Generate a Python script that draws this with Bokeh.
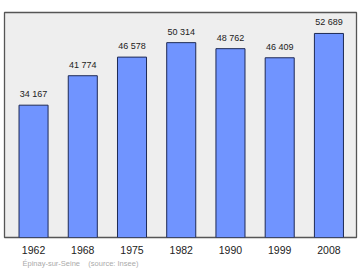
from bokeh.plotting import figure
from bokeh.models import Range1d, FixedTicker, Title, ColumnDataSource
from bokeh.core.properties import value
from bokeh.embed import file_html
from bokeh.resources import INLINE

years = ["1962", "1968", "1975", "1982", "1990", "1999", "2008"]
population = [34167, 41774, 46578, 50314, 48762, 46409, 52689]
value_labels = ["34 167", "41 774", "46 578", "50 314", "48 762", "46 409", "52 689"]
footnote = "Épinay-sur-Seine\u00a0\u00a0\u00a0\u00a0(source: Insee)"

xs = list(range(len(years)))
src = ColumnDataSource(dict(x=xs, top=population, lab=value_labels))

p = figure(width=360, height=270, output_backend="svg", toolbar_location=None,
           x_range=Range1d(-0.59, 6.56), y_range=Range1d(0, 58100),
           min_border_left=4, min_border_right=4, min_border_top=12, min_border_bottom=33)
p.background_fill_color = "#eeeeee"
p.border_fill_color = "white"
p.outline_line_color = "#555555"
p.outline_line_width = 1.3
p.xgrid.visible = False
p.ygrid.visible = False
p.yaxis.visible = False

p.vbar(x="x", top="top", width=0.59, bottom=0, source=src,
       fill_color="#7094ff", line_color="#1e2a55", line_width=1)
p.text(x="x", y="top", text="lab", source=src, y_offset=-6,
       text_align="center", text_baseline="bottom",
       text_font=value("Liberation Sans"), text_font_size="9px", text_color="#222222")

ax = p.xaxis[0]
ax.ticker = FixedTicker(ticks=xs)
ax.major_label_overrides = {i: y for i, y in zip(xs, years)}
ax.axis_line_color = None
ax.major_tick_line_color = None
ax.minor_tick_line_color = None
ax.major_tick_out = 0
ax.minor_tick_out = 0
ax.major_label_standoff = 8
ax.major_label_text_font = "Liberation Sans"
ax.major_label_text_font_size = "10.5px"
ax.major_label_text_color = "#222222"

p.add_layout(Title(text=footnote, align="left", offset=18, standoff=0,
                   text_font="Liberation Sans", text_font_size="7.5px",
                   text_font_style="normal", text_color="#aaaaaa"), "below")

open("out.html", "w").write(file_html(p, INLINE))
